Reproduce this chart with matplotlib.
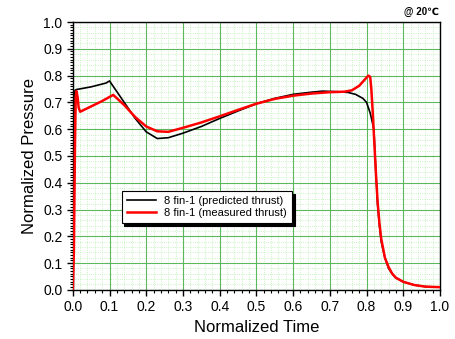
import numpy as np
import matplotlib.pyplot as plt
from matplotlib.ticker import MultipleLocator

plt.rcParams["font.family"] = ["Liberation Sans", "DejaVu Sans"]

# predicted thrust (black)
t_pred = [0.0, 0.002, 0.004, 0.006, 0.01, 0.05, 0.09, 0.10, 0.13, 0.17, 0.20, 0.23, 0.26,
          0.30, 0.35, 0.40, 0.45, 0.50, 0.55, 0.60, 0.65, 0.68, 0.72, 0.75, 0.77, 0.79,
          0.80, 0.81, 0.815, 0.82, 0.825, 0.83, 0.835, 0.84, 0.85, 0.86, 0.87, 0.88,
          0.90, 0.93, 0.96, 1.0]
p_pred = [0.0, 0.30, 0.70, 0.745, 0.748, 0.758, 0.772, 0.78, 0.72, 0.64, 0.59, 0.565, 0.568,
          0.585, 0.61, 0.64, 0.668, 0.695, 0.715, 0.73, 0.738, 0.742, 0.740, 0.737, 0.73, 0.715,
          0.70, 0.66, 0.63, 0.60, 0.45, 0.32, 0.24, 0.18, 0.12, 0.08, 0.06, 0.045,
          0.03, 0.018, 0.012, 0.01]

# measured thrust (red)
t_meas = [0.0, 0.003, 0.006, 0.008, 0.010, 0.013, 0.016, 0.02, 0.05, 0.08, 0.11, 0.14, 0.17,
          0.20, 0.23, 0.26, 0.30, 0.35, 0.40, 0.45, 0.50, 0.55, 0.60, 0.65, 0.70, 0.74,
          0.76, 0.78, 0.795, 0.805, 0.81, 0.813, 0.817, 0.82, 0.825, 0.83, 0.835, 0.84,
          0.85, 0.86, 0.87, 0.88, 0.90, 0.93, 0.96, 1.0]
p_meas = [0.0, 0.15, 0.55, 0.72, 0.742, 0.72, 0.68, 0.665, 0.685, 0.705, 0.728, 0.69, 0.645,
          0.61, 0.592, 0.59, 0.605, 0.625, 0.648, 0.672, 0.695, 0.713, 0.725, 0.733, 0.738, 0.74,
          0.745, 0.762, 0.785, 0.80, 0.795, 0.75, 0.66, 0.58, 0.45, 0.33, 0.25, 0.19,
          0.12, 0.085, 0.06, 0.045, 0.03, 0.018, 0.012, 0.01]

fig = plt.figure(figsize=(4.55, 3.39), dpi=100)
ax = fig.add_axes([0.160, 0.145, 0.807, 0.790])

ax.plot(t_pred, p_pred, color="black", lw=1.2, label="8 fin-1 (predicted thrust)", zorder=3)
ax.plot(t_meas, p_meas, color="red", lw=1.8, label="8 fin-1 (measured thrust)", zorder=4)

ax.set_xlim(0, 1.0)
ax.set_ylim(0, 1.0)
ax.xaxis.set_major_locator(MultipleLocator(0.1))
ax.yaxis.set_major_locator(MultipleLocator(0.1))
ax.xaxis.set_minor_locator(MultipleLocator(0.02))
ax.yaxis.set_minor_locator(MultipleLocator(0.01))
ax.xaxis.set_major_formatter(plt.FormatStrFormatter("%.1f"))
ax.yaxis.set_major_formatter(plt.FormatStrFormatter("%.1f"))

# background grid: solid green major, dotted pale green minor
ax.grid(which="major", color="#5cb85c", lw=0.8)
ax.xaxis.grid(which="minor", color="#b8f0b0", lw=0.6, linestyle=":")
for gy in np.arange(0.02, 1.0, 0.02):
    if abs(gy * 10 - round(gy * 10)) > 1e-6:
        ax.axhline(gy, color="#b8f0b0", lw=0.6, linestyle=":", zorder=0.5)
ax.set_axisbelow(True)

ax.tick_params(which="major", direction="out", length=4, width=1, labelsize=10,
               top=False, right=False)
ax.tick_params(which="minor", direction="out", length=2, width=0.8, top=False, right=False)
for s in ax.spines.values():
    s.set_linewidth(1.0)

ax.set_xlabel("Normalized Time", fontsize=12)
ax.set_ylabel("Normalized Pressure", fontsize=12)

leg = ax.legend(loc="lower left", bbox_to_anchor=(0.133, 0.25), fontsize=8,
                fancybox=False, framealpha=1, edgecolor="black", borderpad=0.45,
                handlelength=2.6, labelspacing=0.15, borderaxespad=0,
                shadow={"color": "black", "alpha": 1})
leg.get_frame().set_linewidth(0.8)

fig.text(0.965, 0.965, "@ 20\u2103", fontsize=7, fontweight="bold", ha="right", va="center")

fig.savefig("out.png", dpi=100)
